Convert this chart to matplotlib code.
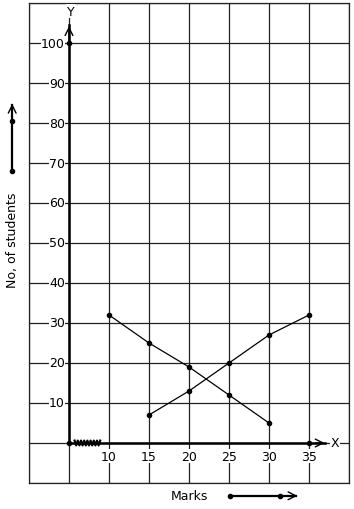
import numpy as np
import matplotlib
matplotlib.use('Agg')
from matplotlib import pyplot as plt

# marks vs no. of students
marks_a = [10, 15, 20, 25, 30]
students_a = [32, 25, 19, 12, 5]
marks_b = [15, 20, 25, 30, 35]
students_b = [7, 13, 20, 27, 32]

x_ticks = [10, 15, 20, 25, 30, 35]
y_ticks = [10, 20, 30, 40, 50, 60, 70, 80, 90, 100]

fig = plt.figure(figsize=(3.54, 5.10), dpi=100)
ax = fig.add_axes([29/354, 1 - 484/510, 320/354, 480/510])
ax.set_xlim(0, 40)
ax.set_ylim(-10, 110)
ax.set_xticks(np.arange(0, 41, 5))
ax.set_yticks(np.arange(-10, 111, 10))
ax.tick_params(length=0, labelbottom=False, labelleft=False)
ax.grid(True, color='#222222', lw=0.9)
for s in ax.spines.values():
    s.set_color('#222222')
    s.set_linewidth(0.9)

# axes
ax.plot([5, 37.0], [0, 0], color='k', lw=1.8, zorder=3)
ax.plot([5, 5], [0, 104.5], color='k', lw=1.8, zorder=3)
ax.annotate('', xy=(37.3, 0), xytext=(35.5, 0),
            arrowprops=dict(arrowstyle='->', lw=1.0, color='k', mutation_scale=14), zorder=4)
ax.annotate('', xy=(5, 104.9), xytext=(5, 100),
            arrowprops=dict(arrowstyle='->', lw=1.0, color='k', mutation_scale=14), zorder=4)
ax.text(38.2, 0, 'X', fontsize=9, ha='center', va='center',
        bbox=dict(fc='white', ec='none', pad=0.5), zorder=4)
ax.text(5.2, 108, 'Y', fontsize=9, ha='center', va='center',
        bbox=dict(fc='white', ec='none', pad=0.5), zorder=4)

# break on the x axis
zx = np.linspace(5.7, 8.9, 17)
zy = np.where(np.arange(17) % 2 == 0, 0.6, -0.6)
ax.plot(zx, zy, color='k', lw=1.6, zorder=4)

ax.plot([5, 5, 35], [0, 100, 0], 'o', color='k', ms=3, zorder=5)

for v in y_ticks:
    ax.text(4.5, v, str(v), fontsize=9, ha='right', va='center',
            bbox=dict(fc='white', ec='none', pad=0.3), zorder=4)
for v in x_ticks:
    ax.text(v, -3.3, str(v), fontsize=9, ha='center', va='center',
            bbox=dict(fc='white', ec='none', pad=0.3), zorder=4)

ax.plot(marks_a, students_a, '-o', color='k', lw=0.9, ms=3, zorder=5)
ax.plot(marks_b, students_b, '-o', color='k', lw=0.9, ms=3, zorder=5)

# labels with arrows outside the grid
ax.text(-2.1, 51, 'No, of students', rotation=90, fontsize=9,
        ha='center', va='center', clip_on=False)
ax.plot([-2.1, -2.1], [68, 84.5], color='k', lw=1.6, clip_on=False)
ax.plot([-2.1, -2.1], [68, 80.5], 'o', color='k', ms=3, clip_on=False)
ax.annotate('', xy=(-2.1, 85.5), xytext=(-2.1, 81),
            arrowprops=dict(arrowstyle='->', lw=1.0, color='k', mutation_scale=14),
            annotation_clip=False)

ax.text(20, -13.2, 'Marks', fontsize=9, ha='center', va='center', clip_on=False)
ax.plot([25.1, 33.4], [-13.2, -13.2], color='k', lw=1.6, clip_on=False)
ax.plot([25.1, 31.4], [-13.2, -13.2], 'o', color='k', ms=3, clip_on=False)
ax.annotate('', xy=(33.9, -13.2), xytext=(32, -13.2),
            arrowprops=dict(arrowstyle='->', lw=1.0, color='k', mutation_scale=14),
            annotation_clip=False)

fig.savefig('out.png', dpi=100)
